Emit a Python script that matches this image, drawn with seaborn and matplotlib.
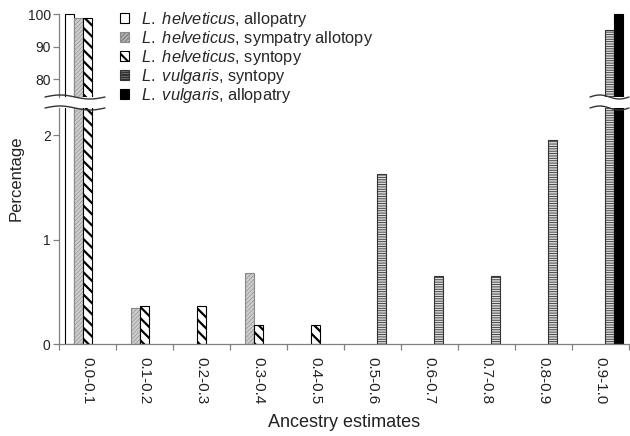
import numpy as np
import pandas as pd
import seaborn as sns
import matplotlib as mpl
import matplotlib.pyplot as plt
from matplotlib.patches import Patch
from matplotlib.lines import Line2D

sns.set_theme(style="white")
plt.rcParams["font.family"] = ["Liberation Sans", "DejaVu Sans"]
plt.rcParams["mathtext.fontset"] = "custom"
plt.rcParams["mathtext.rm"] = "Liberation Sans"
plt.rcParams["mathtext.it"] = "Liberation Sans:italic"
plt.rcParams["hatch.linewidth"] = 1.5

# Ancestry bins and percentage of individuals per group
bins = ["0.0-0.1", "0.1-0.2", "0.2-0.3", "0.3-0.4", "0.4-0.5",
        "0.5-0.6", "0.6-0.7", "0.7-0.8", "0.8-0.9", "0.9-1.0"]
nan = np.nan
helv_allopatry = [100.0, nan, nan, nan, nan, nan, nan, nan, nan, nan]
helv_sympatry_allotopy = [98.98, 0.34, nan, 0.68, nan, nan, nan, nan, nan, nan]
helv_syntopy = [98.92, 0.36, 0.36, 0.18, 0.18, nan, nan, nan, nan, nan]
vulg_syntopy = [nan, nan, nan, nan, nan, 1.63, 0.65, 0.65, 1.95, 95.1]
vulg_allopatry = [nan, nan, nan, nan, nan, nan, nan, nan, nan, 100.0]

series_names = [
    r"$\it{L.\ helveticus}$, allopatry",
    r"$\it{L.\ helveticus}$, sympatry allotopy",
    r"$\it{L.\ helveticus}$, syntopy",
    r"$\it{L.\ vulgaris}$, syntopy",
    r"$\it{L.\ vulgaris}$, allopatry",
]
series_values = [helv_allopatry, helv_sympatry_allotopy, helv_syntopy,
                 vulg_syntopy, vulg_allopatry]

rows = []
for name, vals in zip(series_names, series_values):
    for b, v in zip(bins, vals):
        rows.append({"bin": b, "series": name, "pct": v})
df = pd.DataFrame(rows).dropna()

# fill / hatch style of each group
styles = [
    dict(face="white", edge="black", hatch="", hlw=1.0, lw=0.8),
    dict(face="#cccccc", edge="#8a8a8a", hatch="////////", hlw=0.4, lw=0.8),
    dict(face="white", edge="black", hatch="\\\\\\", hlw=1.6, lw=0.8),
    dict(face="#dadada", edge="#333333", hatch="-------", hlw=0.6, lw=0.8),
    dict(face="black", edge="black", hatch="", hlw=1.0, lw=0.8),
]
palette = {n: s["face"] for n, s in zip(series_names, styles)}


def style_patch(p, s):
    p.set_facecolor(s["face"])
    p.set_edgecolor(s["edge"])
    p.set_linewidth(s["lw"])
    p.set_hatch(s["hatch"] or None)
    if hasattr(p, "set_hatch_linewidth"):
        p.set_hatch_linewidth(s["hlw"])


W, H = 630, 436
fig = plt.figure(figsize=(W / 100, H / 100), dpi=100)
left, right = 59 / W, 629 / W
ax_top = fig.add_axes([left, 1 - 97 / H, right - left, (97 - 13.5) / H])
ax_bot = fig.add_axes([left, 1 - 344 / H, right - left, (344 - 108) / H])

spine_col = "#808080"
for ax in (ax_top, ax_bot):
    sns.barplot(data=df, x="bin", y="pct", hue="series", order=bins,
                hue_order=series_names, palette=palette, width=0.79,
                dodge=True, saturation=1, legend=False, errorbar=None, ax=ax)
    for s, cont in zip(styles, ax.containers):
        for p in cont:
            style_patch(p, s)
    ax.set_xlim(-0.5, len(bins) - 0.5)
    ax.set_xlabel("")
    ax.set_ylabel("")
    for side in ("top", "right"):
        ax.spines[side].set_visible(False)
    ax.spines["left"].set_color(spine_col)
    ax.spines["left"].set_linewidth(0.9)
    ax.tick_params(axis="y", left=True, direction="out", length=4, width=0.9,
                   color=spine_col, labelsize=10, labelcolor="#222222", pad=2)

# upper panel: 75-100 %
ax_top.set_ylim(74.5, 100.3)
ax_top.set_yticks([80, 90, 100])
ax_top.spines["bottom"].set_visible(False)
ax_top.tick_params(axis="x", bottom=False, labelbottom=False)

# lower panel: 0-2.26 %
ax_bot.set_ylim(0, 2.26)
ax_bot.set_yticks([0, 1, 2])
ax_bot.spines["bottom"].set_color(spine_col)
ax_bot.spines["bottom"].set_linewidth(0.9)
ax_bot.set_xticks(np.arange(-0.5, len(bins), 1.0))
ax_bot.set_xticklabels([])
ax_bot.set_xticks(np.arange(len(bins)), minor=True)
ax_bot.set_xticklabels(bins, minor=True, rotation=270, ha="center", va="top",
                       fontsize=11, color="#222222")
ax_bot.tick_params(axis="x", which="major", bottom=True, direction="out",
                   length=4, width=0.9, color=spine_col)
ax_bot.tick_params(axis="x", which="minor", bottom=True, length=0, pad=9)

fig.text(16 / W, 1 - 178 / H, "Percentage", rotation=90, ha="center",
         va="center", fontsize=12, color="#222222")
fig.text(344 / W, 1 - 422 / H, "Ancestry estimates", ha="center",
         va="center", fontsize=13, color="#222222")

# axis break marks
def break_mark(x0, x1, y):
    t = np.linspace(0, 1, 60)
    xs = x0 + (x1 - x0) * t
    ys = y - 2.0 * np.sin(2 * np.pi * t)
    fig.add_artist(Line2D(xs / W, 1 - ys / H, color="#333333", lw=1.0,
                          transform=fig.transFigure))

for y in (97, 108):
    break_mark(45, 105, y)
    break_mark(590, 629, y)

# legend
handles = []
for s in styles:
    h = Patch(facecolor=s["face"], edgecolor=s["edge"], hatch=s["hatch"] or None,
              linewidth=s["lw"])
    if hasattr(h, "set_hatch_linewidth"):
        h.set_hatch_linewidth(s["hlw"])
    handles.append(h)
fig.legend(handles, series_names, loc="upper left",
           bbox_to_anchor=(120 / W, 1 - 10 / H), frameon=False,
           fontsize=11.8, handlelength=0.55, handleheight=0.55,
           handletextpad=0.75, labelspacing=0.0, borderpad=0,
           borderaxespad=0)

fig.savefig("out.png", dpi=100)
